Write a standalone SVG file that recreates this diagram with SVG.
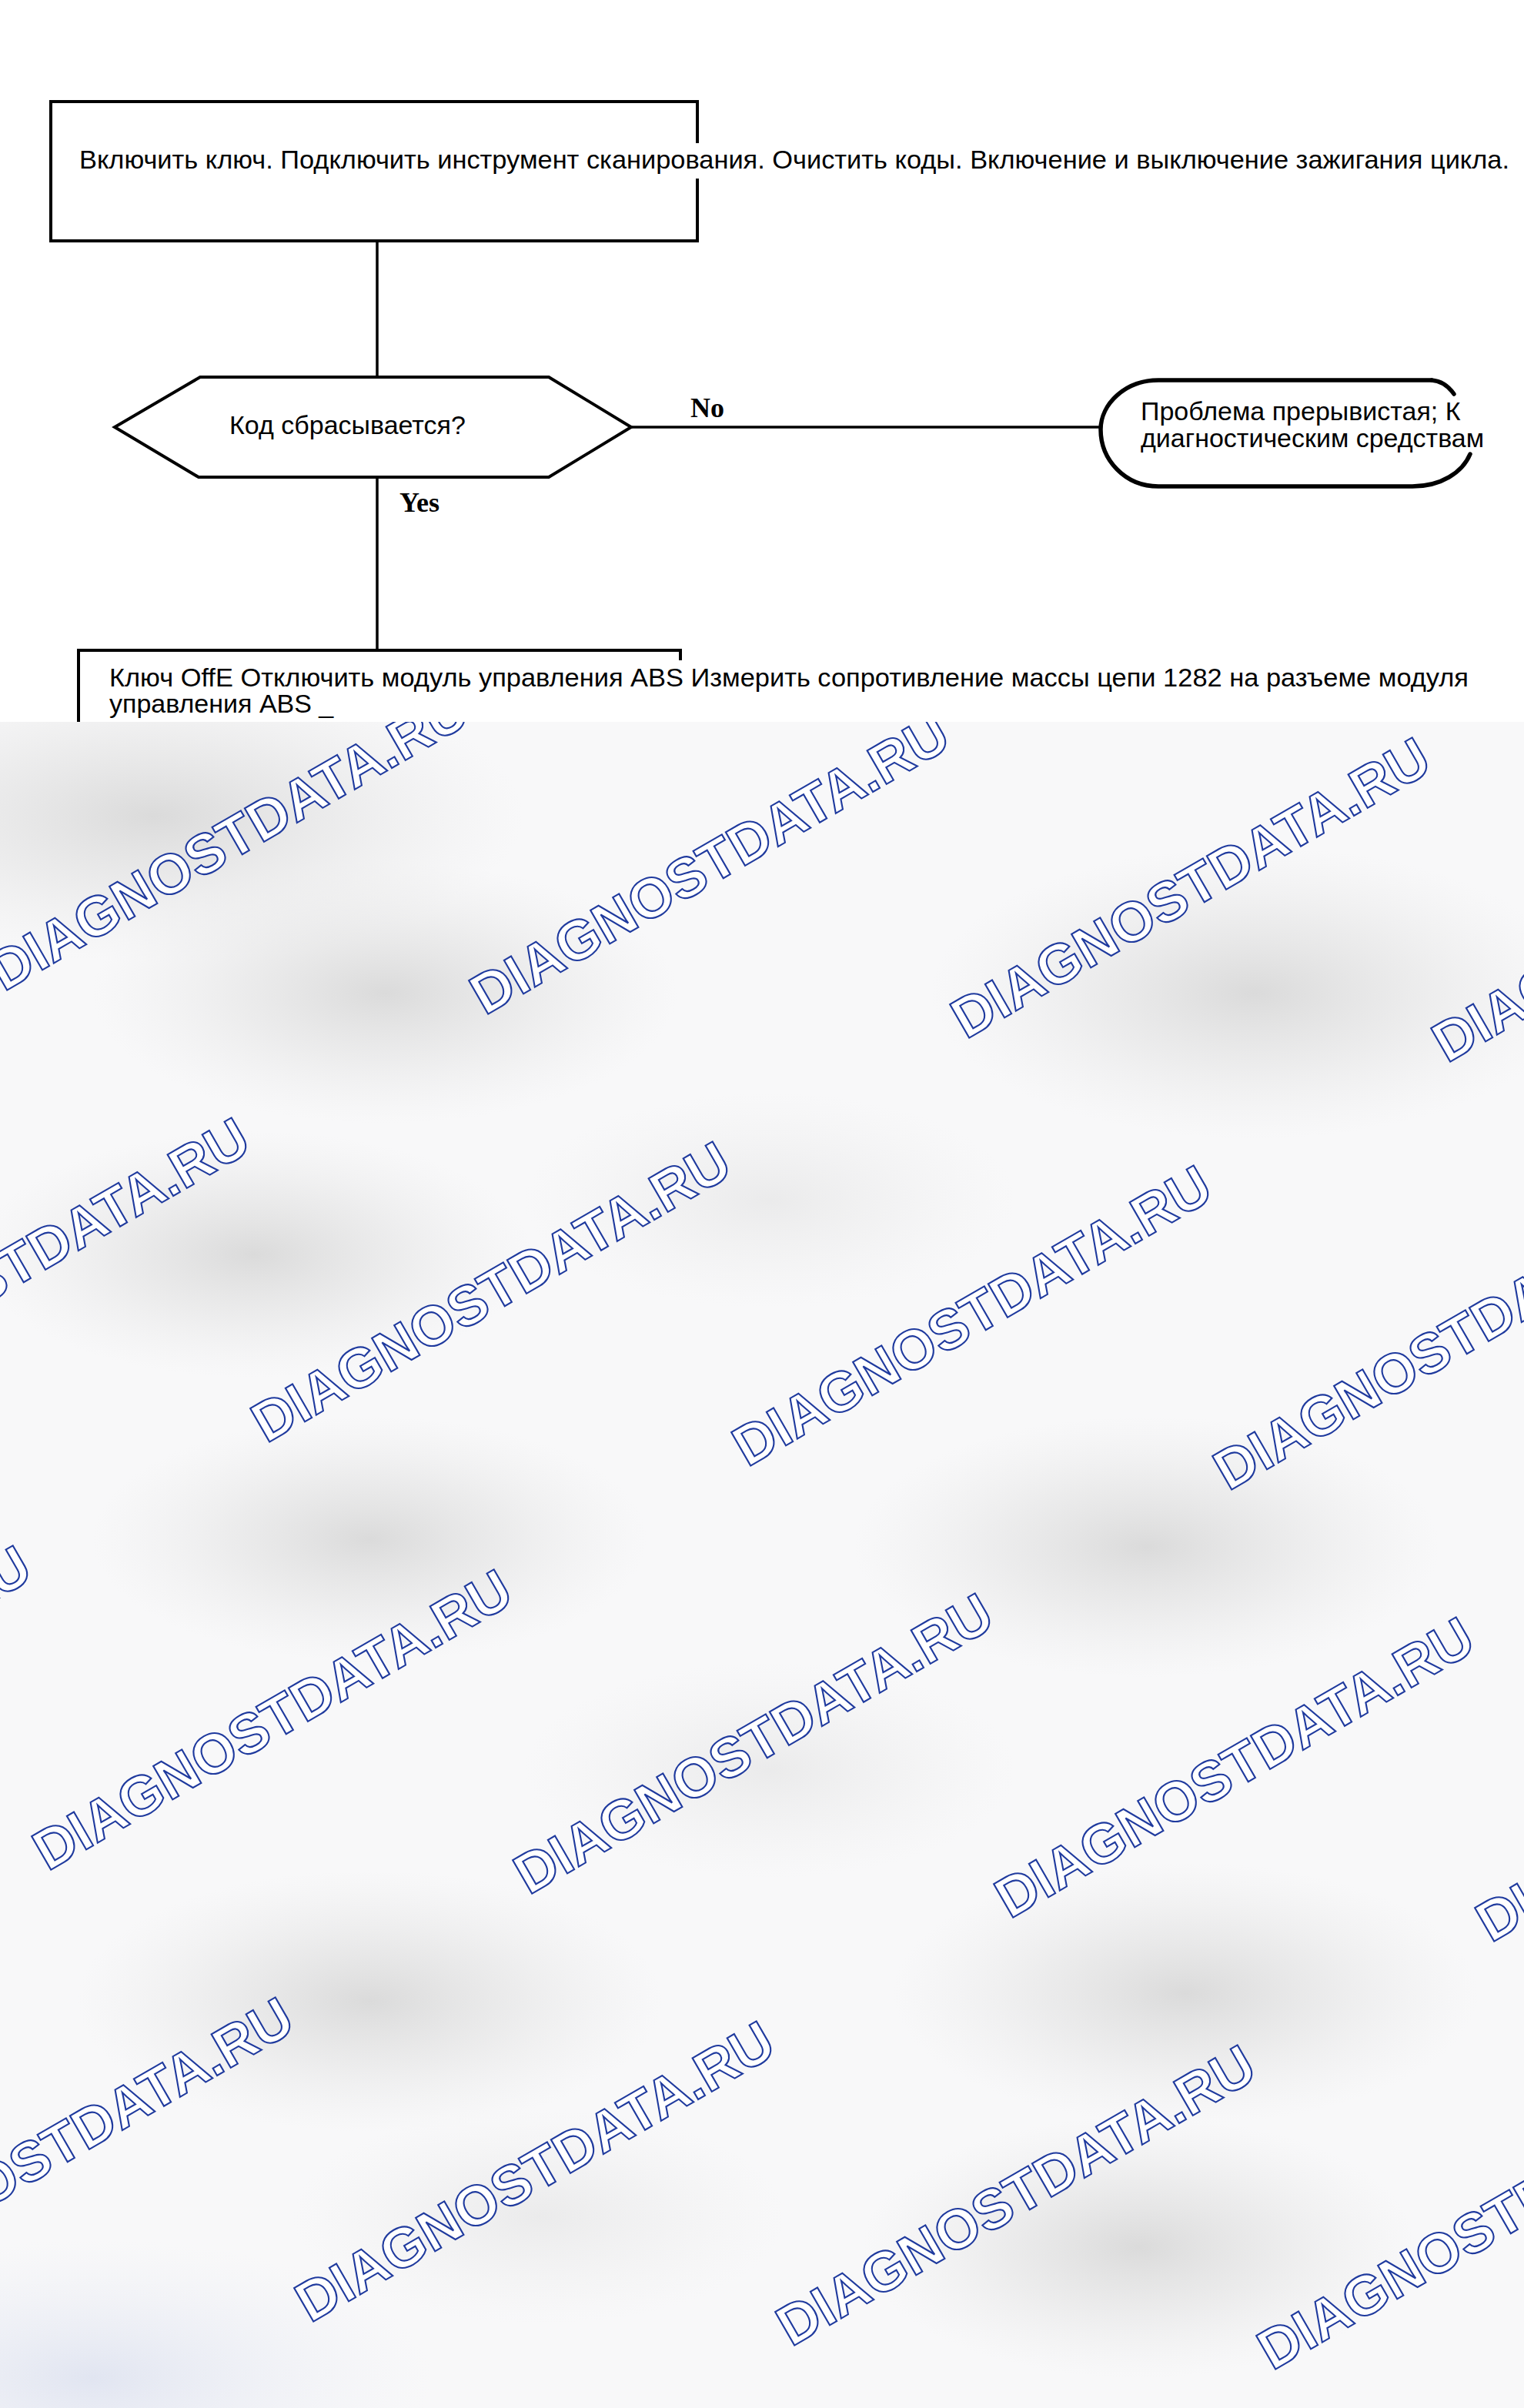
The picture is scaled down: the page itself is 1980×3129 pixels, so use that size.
<svg xmlns="http://www.w3.org/2000/svg" width="1980" height="3129" viewBox="0 0 1980 3129">
<defs>
<style>
.box{fill:#fff;stroke:#000;stroke-width:4}
.term{fill:none;stroke:#000;stroke-width:5.5;stroke-linecap:round}
.t{font-family:"Liberation Sans",Arial,sans-serif;font-size:34px;fill:#000}
.lbl{font-family:"Liberation Serif","Times New Roman",serif;font-weight:bold;font-size:36px;fill:#000}
.conn{stroke:#000;stroke-width:3.5;fill:none}
.wm{font-family:"Liberation Sans",Arial,sans-serif;font-weight:bold;font-size:73px;fill:#fff;stroke:#1f3a9e;stroke-width:2.1}
.bg{fill:url(#blob)}
</style>
<radialGradient id="blob">
<stop offset="0" stop-color="#d9d9d9" stop-opacity="0.95"/>
<stop offset="0.5" stop-color="#e0e0e0" stop-opacity="0.5"/>
<stop offset="1" stop-color="#e8e8e8" stop-opacity="0"/>
</radialGradient>
<radialGradient id="blue">
<stop offset="0" stop-color="#e1e5f1"/>
<stop offset="1" stop-color="#eef0f6" stop-opacity="0"/>
</radialGradient>
<clipPath id="wmclip"><rect x="0" y="938" width="1980" height="2191"/></clipPath>
</defs>
<rect width="1980" height="3129" fill="#fff"/>

<g id="connectors">
<line class="conn" x1="490" y1="313" x2="490" y2="490"/>
<line class="conn" x1="820" y1="555" x2="1430" y2="555"/>
<line class="conn" x1="490" y1="620" x2="490" y2="845"/>
<text class="lbl" x="897" y="542">No</text>
<text class="lbl" x="519" y="665">Yes</text>
</g>

<g id="node-start">
<rect class="box" x="66" y="132" width="840" height="181"/>
<rect x="896" y="186" width="1074" height="46" fill="#fff"/>
<text class="t" x="103" y="219" textLength="1858" lengthAdjust="spacingAndGlyphs">Включить ключ. Подключить инструмент сканирования. Очистить коды. Включение и выключение зажигания цикла.</text>
</g>

<g id="node-decision">
<polygon class="box" points="260,490 713,490 820,555 713,620 258,620 149,555"/>
<text class="t" x="298" y="564">Код сбрасывается?</text>
</g>

<g id="node-terminal">
<path class="term" d="M1860 494 L1505 494 C1462 494 1430 525 1430 558 C1430 598 1462 632 1505 632 L1835 632 C1872 632 1900 614 1910 590"/>
<path class="term" d="M1860 494 C1872 495 1882 502 1889 512"/>
<text class="t" x="1482" y="546">Проблема прерывистая; К</text>
<text class="t" x="1482" y="581">диагностическим средствам</text>
</g>

<g id="node-check">
<path class="box" d="M102 940 V845 H884 V940" fill="none"/>
<rect x="138" y="858" width="1800" height="80" fill="#fff"/>
<text class="t" x="142" y="892" textLength="1766" lengthAdjust="spacingAndGlyphs">Ключ OffE Отключить модуль управления ABS Измерить сопротивление массы цепи 1282 на разъеме модуля</text>
<text class="t" x="142" y="926">управления ABS _</text>
</g>

<g id="watermark" clip-path="url(#wmclip)">
<rect x="0" y="938" width="1980" height="2191" fill="#f8f8f9"/>
<ellipse class="bg" cx="200" cy="1060" rx="480" ry="190"/>
<ellipse class="bg" cx="500" cy="1290" rx="380" ry="170"/>
<ellipse class="bg" cx="1630" cy="1290" rx="420" ry="190"/>
<ellipse class="bg" cx="330" cy="1630" rx="360" ry="160"/>
<ellipse class="bg" cx="1000" cy="1560" rx="320" ry="140" opacity="0.45"/>
<ellipse class="bg" cx="480" cy="2000" rx="360" ry="160"/>
<ellipse class="bg" cx="1490" cy="2010" rx="380" ry="170"/>
<ellipse class="bg" cx="1000" cy="2300" rx="320" ry="140" opacity="0.45"/>
<ellipse class="bg" cx="480" cy="2600" rx="380" ry="170"/>
<ellipse class="bg" cx="1540" cy="2590" rx="380" ry="170"/>
<ellipse class="bg" cx="1480" cy="2920" rx="360" ry="170"/>
<ellipse class="bg" cx="700" cy="2880" rx="320" ry="140" opacity="0.45"/>
<ellipse cx="120" cy="3090" rx="440" ry="180" fill="url(#blue)"/>
<g>
<text class="wm" transform="translate(5,1289) rotate(-30)">DIAGNOSTDATA.RU</text>
<text class="wm" transform="translate(630,1320) rotate(-30)">DIAGNOSTDATA.RU</text>
<text class="wm" transform="translate(1255,1351) rotate(-30)">DIAGNOSTDATA.RU</text>
<text class="wm" transform="translate(1880,1382) rotate(-30)">DIAGNOSTDATA.RU</text>
<text class="wm" transform="translate(-279,1845) rotate(-30)">DIAGNOSTDATA.RU</text>
<text class="wm" transform="translate(346,1876) rotate(-30)">DIAGNOSTDATA.RU</text>
<text class="wm" transform="translate(971,1907) rotate(-30)">DIAGNOSTDATA.RU</text>
<text class="wm" transform="translate(1596,1938) rotate(-30)">DIAGNOSTDATA.RU</text>
<text class="wm" transform="translate(-563,2401) rotate(-30)">DIAGNOSTDATA.RU</text>
<text class="wm" transform="translate(62,2432) rotate(-30)">DIAGNOSTDATA.RU</text>
<text class="wm" transform="translate(687,2463) rotate(-30)">DIAGNOSTDATA.RU</text>
<text class="wm" transform="translate(1312,2494) rotate(-30)">DIAGNOSTDATA.RU</text>
<text class="wm" transform="translate(1937,2525) rotate(-30)">DIAGNOSTDATA.RU</text>
<text class="wm" transform="translate(-222,2988) rotate(-30)">DIAGNOSTDATA.RU</text>
<text class="wm" transform="translate(403,3019) rotate(-30)">DIAGNOSTDATA.RU</text>
<text class="wm" transform="translate(1028,3050) rotate(-30)">DIAGNOSTDATA.RU</text>
<text class="wm" transform="translate(1653,3081) rotate(-30)">DIAGNOSTDATA.RU</text>
</g>
</g>
</svg>
